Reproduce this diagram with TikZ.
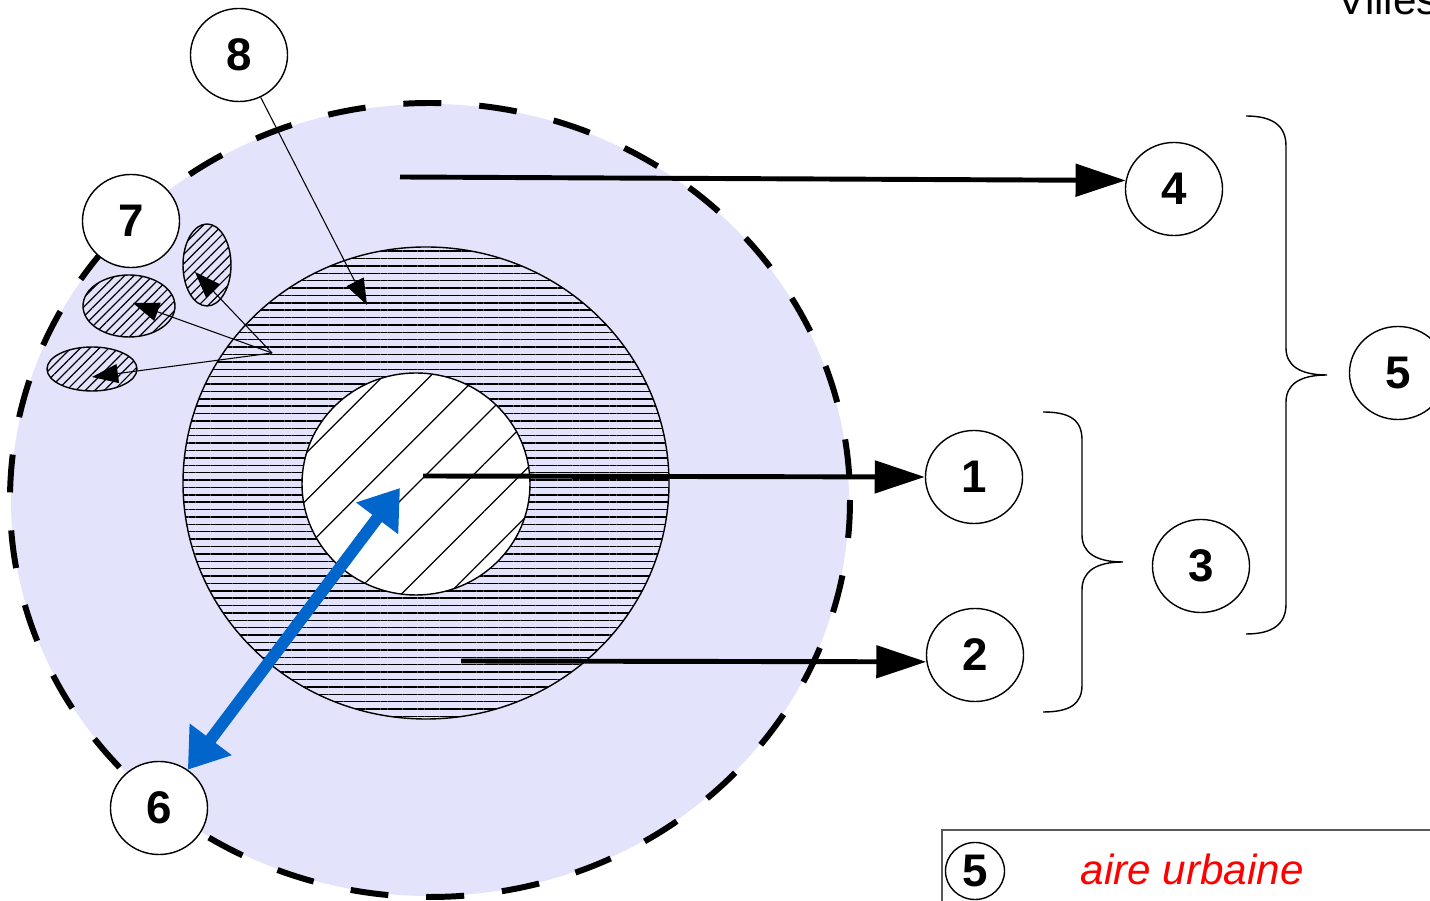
\documentclass[tikz,border=0pt]{standalone}
\usepackage{fontspec}
\setmainfont{Liberation Sans}
\usetikzlibrary{shapes.geometric, positioning, arrows.meta, patterns.meta}
\definecolor{zonefill}{RGB}{227,227,251}
\definecolor{axisblue}{RGB}{0,102,204}

\begin{document}
\begin{tikzpicture}[x=0.01cm, y=-0.01cm,
    num/.style={ellipse, draw=black, line width=0.4pt, fill=white, minimum width=0.97cm,
        minimum height=0.93cm, inner sep=0pt, font=\fontsize{13}{15}\selectfont\bfseries, text=black},
    flow/.style={line width=1.4pt, -{Triangle[length=0.5cm, width=0.32cm]}},
    pointer/.style={line width=0.3pt, -{Triangle[length=0.26cm, width=0.19cm]}},
    axis/.style={line width=3.4pt, draw=axisblue,
        {Triangle[length=0.38cm, width=0.5cm]}-{Triangle[length=0.38cm, width=0.5cm]}},
    hatch/.style={draw=black, line width=0.4pt, preaction={fill=zonefill},
        pattern={Lines[angle=45, distance=1.9pt, line width=0.35pt]}},
    curly/.style={line width=0.4pt}
]
\useasboundingbox (0,0) rectangle (1430,901);

% zones
\path[fill=zonefill] (430,500) ellipse [x radius=419, y radius=396];
\draw[line width=1.7pt, dash pattern=on 10.8pt off 10.8pt] (430,500) ellipse [x radius=420, y radius=397];
\draw[line width=0.4pt, preaction={fill=zonefill},
    pattern={Lines[angle=0, distance=2.1pt, line width=0.4pt]}] (426,483) ellipse [x radius=243, y radius=236];
\draw[line width=0.4pt, preaction={fill=white},
    pattern={Lines[angle=45, distance=9.5pt, line width=0.35pt]}] (416,484) ellipse [x radius=114, y radius=111];

% satellites
\draw[hatch] (207,265) ellipse [x radius=24, y radius=41];
\draw[hatch] (129,306) ellipse [x radius=46, y radius=31];
\draw[hatch] (92,369) ellipse [x radius=45, y radius=22];

% labels
\node (n1) [num] at (974,477) {1};
\node (n2) [num] at (975,655) {2};
\node (n3) [num] at (1201,566) {3};
\node (n4) [num] at (1174,189) {4};
\node (n5) [num] at (1398,373) {5};
\node (n6) [num] at (159,808) {6};
\node (n7) [num] at (131,221) {7};
\node (n8) [num] at (239,55) {8};

\coordinate (s4) at (400,177);
\coordinate (s1) at (423,476);
\coordinate (s2) at (461,661);
\coordinate (t6) at (400,488);
\coordinate (t8) at (367,305);
\coordinate (c7) at (272,353);
\coordinate (t7a) at (195,272);
\coordinate (t7b) at (133,303);
\coordinate (t7c) at (92,377);

\draw[flow] (s4) -- (n4.170);
\draw[flow] (s1) -- (n1.west);
\draw[flow] (s2) -- (n2.188);
\draw[axis] (n6) -- (t6);
\draw[pointer] (n8) -- (t8);
\draw[pointer] (c7) -- (t7a);
\draw[pointer] (c7) -- (t7b);
\draw[pointer] (c7) -- (t7c);

% braces
\coordinate (b3top) at (1043,412);
\coordinate (b3tip) at (1123,562);
\coordinate (b3bot) at (1043,712);
\coordinate (b5top) at (1246,116);
\coordinate (b5tip) at (1327,375);
\coordinate (b5bot) at (1246,634);
\draw[curly] (b3top) .. controls (1070,412) and (1082,420) .. (1082,440) -- (1082,535)
    .. controls (1082,552) and (1095,562) .. (b3tip)
    .. controls (1095,562) and (1082,572) .. (1082,590) -- (1082,685)
    .. controls (1082,704) and (1070,712) .. (b3bot);
\draw[curly] (b5top) .. controls (1273,116) and (1286,126) .. (1286,146) -- (1286,348)
    .. controls (1286,365) and (1299,375) .. (b5tip)
    .. controls (1299,375) and (1286,385) .. (1286,402) -- (1286,604)
    .. controls (1286,624) and (1273,634) .. (b5bot);

% legend
\node (title) [anchor=base west, inner sep=0pt, font=\fontsize{12}{14}\selectfont] at (1337,15) {Villes};
\draw[line width=0.5pt, draw=black!65] (942,950) -- (942,830) -- (1480,830);
\node (k5) [num, minimum width=0.59cm, minimum height=0.57cm] at (975,871) {5};
\node (k5txt) [anchor=base west, inner sep=0pt, text=red, font=\fontsize{12}{14}\selectfont\itshape] at (1080,885) {aire urbaine};
\end{tikzpicture}
\end{document}
